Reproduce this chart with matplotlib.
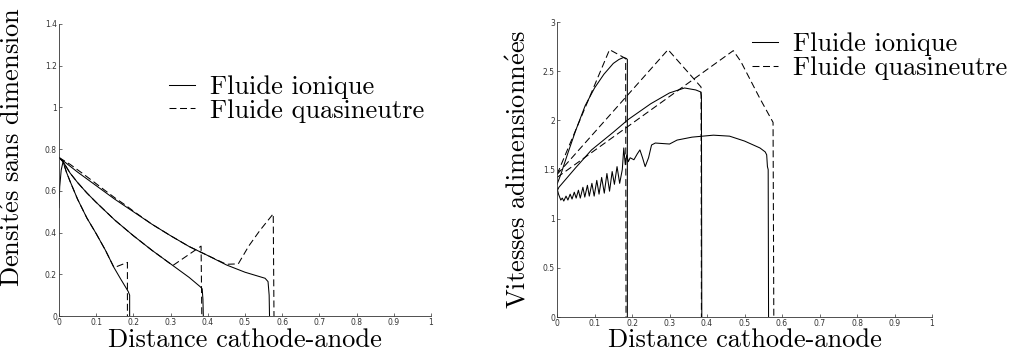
"""Ion vs quasineutral fluid: densities and velocities along the cathode-anode gap."""

import matplotlib

matplotlib.use("Agg")
import matplotlib.pyplot as plt
from matplotlib.lines import Line2D
from matplotlib.ticker import FuncFormatter


# --- densities (left panel) ---
ION_N_SHORT_X = [0.0, 0.002, 0.006, 0.011, 0.02, 0.03, 0.05, 0.075, 0.1, 0.125, 0.148, 0.165, 0.186, 0.19, 0.19]
ION_N_SHORT_Y = [0.52, 0.62, 0.70, 0.74, 0.69, 0.645, 0.56, 0.47, 0.395, 0.315, 0.232, 0.18, 0.118, 0.10, 0.0]
ION_N_MED_X = [0.0, 0.011, 0.03, 0.05, 0.075, 0.1, 0.15, 0.2, 0.25, 0.3, 0.35, 0.38, 0.385, 0.387, 0.388]
ION_N_MED_Y = [0.76, 0.74, 0.685, 0.64, 0.59, 0.545, 0.46, 0.385, 0.315, 0.25, 0.185, 0.14, 0.13, 0.08, 0.0]
ION_N_LONG_X = [0.0, 0.05, 0.1, 0.15, 0.2, 0.25, 0.3, 0.35, 0.4, 0.45, 0.5, 0.554, 0.562, 0.565, 0.566]
ION_N_LONG_Y = [0.76, 0.69, 0.625, 0.56, 0.50, 0.44, 0.385, 0.333, 0.29, 0.245, 0.21, 0.181, 0.165, 0.10, 0.0]

QN_N_SHORT_X = [0.0, 0.011, 0.02, 0.03, 0.05, 0.075, 0.1, 0.125, 0.148, 0.184, 0.184]
QN_N_SHORT_Y = [0.76, 0.74, 0.69, 0.645, 0.56, 0.47, 0.395, 0.315, 0.232, 0.257, 0.0]
QN_N_MED_X = [0.0, 0.011, 0.03, 0.05, 0.075, 0.1, 0.15, 0.2, 0.25, 0.306, 0.382, 0.384]
QN_N_MED_Y = [0.76, 0.74, 0.685, 0.64, 0.59, 0.545, 0.46, 0.385, 0.315, 0.242, 0.335, 0.0]
QN_N_LONG_X = [0.0, 0.03, 0.06, 0.09, 0.12, 0.15, 0.18, 0.2, 0.25, 0.3, 0.35, 0.4, 0.45, 0.482, 0.51, 0.54, 0.576, 0.578]
QN_N_LONG_Y = [0.76, 0.727, 0.688, 0.648, 0.607, 0.567, 0.53, 0.503, 0.44, 0.385, 0.333, 0.29, 0.248, 0.25, 0.335, 0.41, 0.49, 0.0]

# --- velocities (right panel) ---
ION_V_SHORT_X = [0.0, 0.01, 0.03, 0.05, 0.075, 0.1, 0.125, 0.15, 0.165, 0.177, 0.185, 0.1875, 0.1875]
ION_V_SHORT_Y = [1.35, 1.45, 1.68, 1.90, 2.15, 2.33, 2.47, 2.58, 2.62, 2.64, 2.63, 2.62, 0.0]
ION_V_MED_X = [0.0, 0.005, 0.05, 0.092, 0.15, 0.19, 0.25, 0.3, 0.34, 0.37, 0.383, 0.385, 0.386]
ION_V_MED_Y = [1.28, 1.32, 1.52, 1.70, 1.88, 2.01, 2.17, 2.28, 2.33, 2.31, 2.29, 2.25, 0.0]
ION_V_LONG_X = [
    0.0, 0.004, 0.010, 0.014, 0.018, 0.024, 0.029, 0.035, 0.040, 0.046, 0.051,
    0.057, 0.062, 0.069, 0.074, 0.081, 0.086, 0.093, 0.099, 0.106, 0.112, 0.119,
    0.126, 0.133, 0.140, 0.147, 0.153, 0.160, 0.167, 0.174, 0.178, 0.182, 0.186,
    0.190, 0.195, 0.205, 0.214, 0.221, 0.228, 0.235, 0.244, 0.252, 0.262, 0.30,
    0.32, 0.36, 0.417, 0.46, 0.50, 0.541, 0.555, 0.559, 0.561, 0.563, 0.564,
]
ION_V_LONG_Y = [
    1.31, 1.25, 1.19, 1.21, 1.18, 1.23, 1.19, 1.25, 1.20, 1.27, 1.21,
    1.29, 1.21, 1.32, 1.22, 1.34, 1.23, 1.36, 1.23, 1.39, 1.25, 1.42,
    1.26, 1.46, 1.28, 1.48, 1.35, 1.53, 1.36, 1.50, 1.72, 1.55, 1.65,
    1.58, 1.62, 1.60, 1.66, 1.70, 1.62, 1.53, 1.62, 1.75, 1.77, 1.76,
    1.80, 1.83, 1.85, 1.84, 1.79, 1.72, 1.68, 1.65, 1.53, 1.50, 0.0,
]

QN_V_SHORT_X = [0.0, 0.14, 0.183, 0.184]
QN_V_SHORT_Y = [1.45, 2.72, 2.63, 0.0]
QN_V_MED_X = [0.0, 0.296, 0.384, 0.385]
QN_V_MED_Y = [1.45, 2.72, 2.34, 0.0]
QN_V_LONG_X = [0.0, 0.47, 0.49, 0.54, 0.576, 0.578]
QN_V_LONG_Y = [1.42, 2.71, 2.60, 2.23, 1.98, 0.0]

X_TICKS = [0, 0.1, 0.2, 0.3, 0.4, 0.5, 0.6, 0.7, 0.8, 0.9, 1]
N_TICKS = [0, 0.2, 0.4, 0.6, 0.8, 1.0, 1.2, 1.4]
V_TICKS = [0, 0.5, 1, 1.5, 2, 2.5, 3]
LEGEND_LABELS = ["Fluide ionique", "Fluide quasineutre"]

plt.rcParams["font.family"] = ["cmr10", "DejaVu Serif"]
plt.rcParams["mathtext.fontset"] = "cm"
plt.rcParams["axes.unicode_minus"] = False
plt.rcParams["lines.scale_dashes"] = False

SOLID = dict(color="black", lw=0.75)
DASHED = dict(color="black", lw=0.75, ls=(0, (5, 2.6)))
BIG = 19


def tick_fmt(v, _pos):
    return f"{v:g}"


def style(ax, yticks, ylim):
    ax.set_xlim(0, 1)
    ax.set_ylim(*ylim)
    ax.set_xticks(X_TICKS)
    ax.set_yticks(yticks)
    ax.xaxis.set_major_formatter(FuncFormatter(tick_fmt))
    ax.yaxis.set_major_formatter(FuncFormatter(tick_fmt))
    for lab in ax.get_xticklabels() + ax.get_yticklabels():
        lab.set_fontfamily("DejaVu Sans")
        lab.set_fontsize(5.5)
        lab.set_color("#222222")
    ax.tick_params(direction="in", length=2.5, width=0.5, pad=1.5, colors="#333333")
    ax.spines[["top", "right"]].set_visible(False)
    for s in ("left", "bottom"):
        ax.spines[s].set_linewidth(0.6)
        ax.spines[s].set_color("#333333")


def add_legend(ax, anchor):
    handles = [Line2D([], [], **SOLID), Line2D([], [], **DASHED)]
    ax.legend(
        handles,
        LEGEND_LABELS,
        loc="upper left",
        bbox_to_anchor=anchor,
        frameon=False,
        fontsize=BIG,
        handlelength=1.0,
        handletextpad=0.55,
        labelspacing=0.0,
        borderpad=0,
        borderaxespad=0,
    )


fig = plt.figure(figsize=(10.15, 3.57), dpi=100)
ax1 = fig.add_axes([0.0581, 0.1148, 0.3665, 0.818])
ax2 = fig.add_axes([0.5488, 0.1120, 0.3695, 0.826])

for x, y in ((ION_N_SHORT_X, ION_N_SHORT_Y), (ION_N_MED_X, ION_N_MED_Y), (ION_N_LONG_X, ION_N_LONG_Y)):
    ax1.plot(x, y, **SOLID)
for x, y in ((QN_N_SHORT_X, QN_N_SHORT_Y), (QN_N_MED_X, QN_N_MED_Y), (QN_N_LONG_X, QN_N_LONG_Y)):
    ax1.plot(x, y, **DASHED)

for x, y in ((ION_V_SHORT_X, ION_V_SHORT_Y), (ION_V_MED_X, ION_V_MED_Y), (ION_V_LONG_X, ION_V_LONG_Y)):
    ax2.plot(x, y, **SOLID)
for x, y in ((QN_V_SHORT_X, QN_V_SHORT_Y), (QN_V_MED_X, QN_V_MED_Y), (QN_V_LONG_X, QN_V_LONG_Y)):
    ax2.plot(x, y, **DASHED)

style(ax1, N_TICKS, (0, 1.4))
style(ax2, V_TICKS, (0, 3))

ax1.set_xlabel("Distance cathode-anode", fontsize=BIG, labelpad=1)
ax2.set_xlabel("Distance cathode-anode", fontsize=BIG, labelpad=0)
ax1.set_ylabel(r"Densit$\acute{\mathrm{e}}$s sans dimension", fontsize=BIG)
ax2.set_ylabel(r"Vitesses adimensionn$\acute{\mathrm{e}}$es", fontsize=BIG)
ax1.yaxis.set_label_coords(-0.092, 0.579)
ax2.yaxis.set_label_coords(-0.072, 0.5)

add_legend(ax1, (0.295, 0.825))
add_legend(ax2, (0.52, 0.965))

fig.savefig("out.png", dpi=100, facecolor="white")
